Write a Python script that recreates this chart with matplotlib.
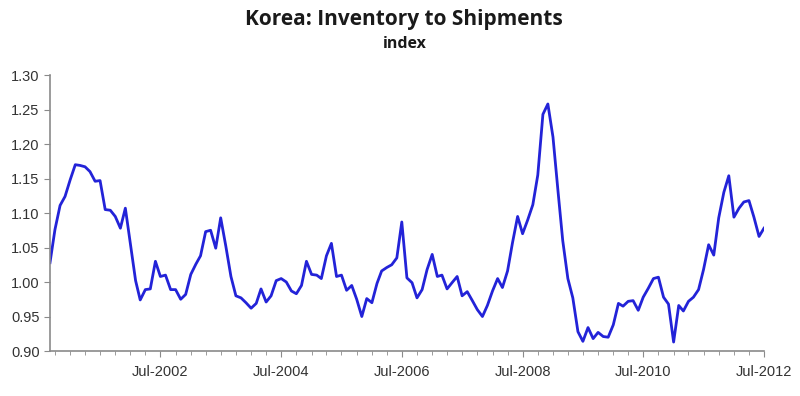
import numpy as np
import pandas as pd
import matplotlib
matplotlib.use("Agg")
import matplotlib.pyplot as plt
import matplotlib.dates as mdates

# monthly index, Sep-2000 .. Jul-2012
start_month = "2000-09-01"
ratio = [
    1.028, 1.076, 1.111, 1.124, 1.148, 1.170, 1.169, 1.167, 1.160, 1.146,
    1.147, 1.105, 1.104, 1.095, 1.078, 1.107, 1.055, 1.002, 0.974, 0.989,
    0.990, 1.030, 1.008, 1.010, 0.989, 0.989, 0.975, 0.982, 1.011, 1.026,
    1.038, 1.073, 1.075, 1.049, 1.093, 1.052, 1.008, 0.980, 0.977, 0.970,
    0.962, 0.969, 0.990, 0.971, 0.980, 1.002, 1.005, 1.000, 0.987, 0.983,
    0.995, 1.030, 1.011, 1.010, 1.005, 1.038, 1.056, 1.008, 1.010, 0.988,
    0.995, 0.975, 0.950, 0.976, 0.970, 0.998, 1.016, 1.021, 1.025, 1.035,
    1.087, 1.006, 0.999, 0.977, 0.989, 1.018, 1.040, 1.008, 1.010, 0.990,
    0.999, 1.008, 0.980, 0.986, 0.973, 0.960, 0.950, 0.966, 0.987, 1.005,
    0.992, 1.016, 1.057, 1.095, 1.070, 1.090, 1.112, 1.155, 1.243, 1.258,
    1.210, 1.130, 1.060, 1.005, 0.977, 0.928, 0.914, 0.934, 0.918, 0.927,
    0.921, 0.920, 0.938, 0.969, 0.965, 0.972, 0.973, 0.959, 0.978, 0.991,
    1.005, 1.007, 0.978, 0.968, 0.913, 0.966, 0.958, 0.972, 0.978, 0.989,
    1.018, 1.054, 1.039, 1.093, 1.130, 1.154, 1.094, 1.107, 1.116, 1.118,
    1.094, 1.066, 1.078,
]
y_ticks = [0.90, 0.95, 1.00, 1.05, 1.10, 1.15, 1.20, 1.25, 1.30]

dates = pd.date_range(start_month, periods=len(ratio), freq="MS")

plt.rcParams['font.family'] = ['Liberation Sans', 'DejaVu Sans']

fig = plt.figure(figsize=(8, 3.96), dpi=100)
ax = fig.add_axes([0.0625, 0.1136, 0.8925, 0.697])

ax.plot(dates, ratio, color="#2323d8", lw=2.0)

ax.set_xlim(dates[0], dates[-1])
ax.set_ylim(0.90, 1.30)
ax.set_yticks(y_ticks)
ax.set_yticklabels([f"{v:.2f}" for v in y_ticks])

ax.xaxis.set_major_locator(mdates.YearLocator(2, month=7))
ax.xaxis.set_minor_locator(mdates.MonthLocator(bymonth=[1, 4, 7, 10]))
ax.xaxis.set_major_formatter(mdates.DateFormatter("%b-%Y"))

for side in ["top", "right"]:
    ax.spines[side].set_visible(False)
for side in ["left", "bottom"]:
    ax.spines[side].set_color("#8a8a8a")
    ax.spines[side].set_linewidth(1.2)

ax.tick_params(axis="both", which="major", colors="#8a8a8a", labelcolor="#333333",
               labelsize=10.5, length=4, direction="out")
ax.tick_params(axis="x", which="minor", colors="#8a8a8a", length=3)
ax.tick_params(axis="x", which="major", pad=6)

fig.text(0.505, 0.952, "Korea: Inventory to Shipments", ha="center", va="center",
         fontsize=15, fontweight="bold", family=["Open Sans", "DejaVu Sans"], color="#1a1a1a")
fig.text(0.506, 0.888, "index", ha="center", va="center",
         fontsize=11.5, fontweight="bold", family=["Open Sans", "DejaVu Sans"], color="#1a1a1a")

fig.savefig("out.png", dpi=100)
